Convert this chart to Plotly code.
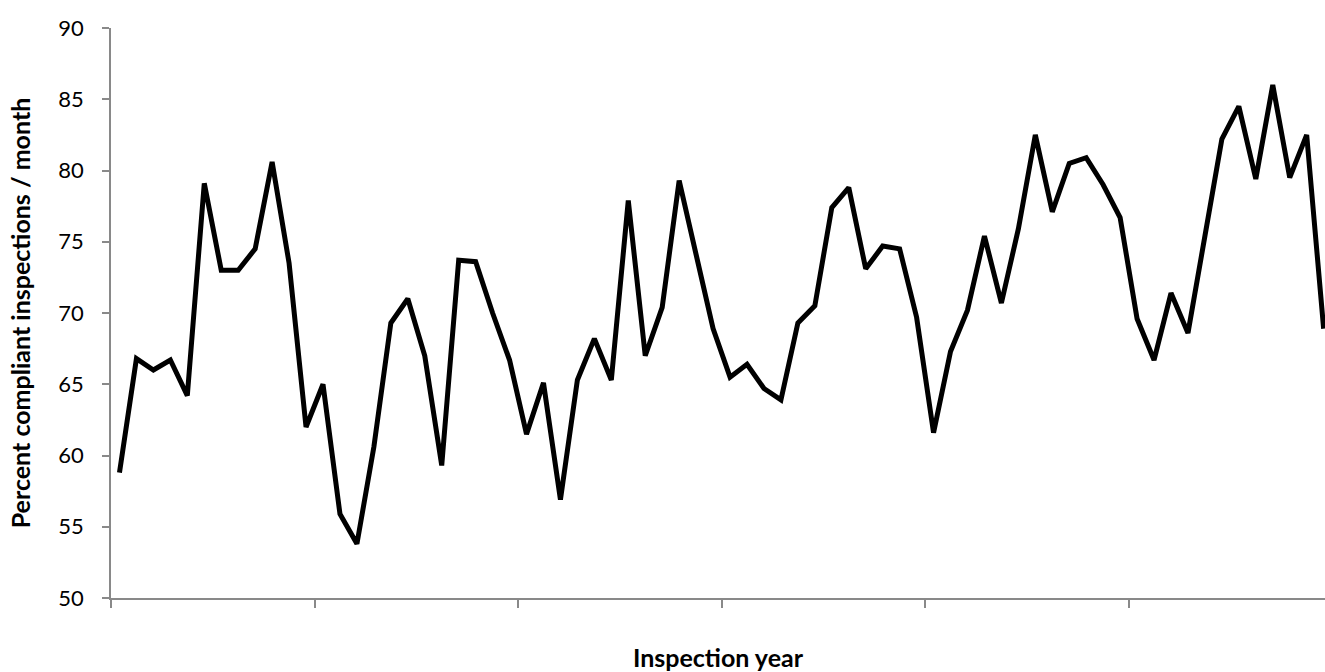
import plotly.graph_objects as go

# Monthly percent compliant inspections (72 months = 6 inspection years)
months = list(range(72))
values = [
    58.8, 66.8, 66.0, 66.7, 64.2, 79.1, 73.0, 73.0, 74.5, 80.6, 73.5, 62.0,
    65.0, 55.9, 53.8, 60.6, 69.3, 71.0, 67.0, 59.3, 73.7, 73.6, 70.0, 66.7,
    61.5, 65.1, 56.9, 65.3, 68.2, 65.3, 77.9, 67.0, 70.4, 79.3, 74.1, 68.9,
    65.5, 66.4, 64.7, 63.9, 69.3, 70.5, 77.4, 78.8, 73.1, 74.7, 74.5, 69.7,
    61.6, 67.3, 70.2, 75.4, 70.7, 75.9, 82.5, 77.1, 80.5, 80.9, 79.0, 76.7,
    69.6, 66.7, 71.4, 68.6, 75.4, 82.2, 84.5, 79.4, 86.0, 79.5, 82.5, 68.9,
]
year_boundaries = [-0.5, 11.5, 23.5, 35.5, 47.5, 59.5, 71.5]
y_ticks = [50, 55, 60, 65, 70, 75, 80, 85, 90]

FONT = "Lato, 'Open Sans', sans-serif"
AXIS_GRAY = "#898989"

fig = go.Figure(
    go.Scatter(
        x=months,
        y=values,
        mode="lines",
        line=dict(color="black", width=5),
        showlegend=False,
    )
)

fig.update_layout(
    width=1325,
    height=672,
    margin=dict(l=111, r=0, t=28, b=74),
    paper_bgcolor="white",
    plot_bgcolor="white",
    font=dict(family=FONT, color="black"),
)

fig.update_xaxes(
    range=[-0.5, 71.08],
    tickmode="array",
    tickvals=year_boundaries,
    showticklabels=False,
    ticks="outside",
    ticklen=8,
    tickcolor=AXIS_GRAY,
    tickwidth=1.5,
    showline=True,
    linecolor=AXIS_GRAY,
    linewidth=1.5,
    showgrid=False,
    zeroline=False,
    title=dict(text="<b>Inspection year</b>", font=dict(size=25, family=FONT), standoff=45),
)

fig.update_yaxes(
    range=[50, 90],
    tickmode="array",
    tickvals=y_ticks,
    ticks="outside",
    ticklen=7,
    tickcolor=AXIS_GRAY,
    tickwidth=1.5,
    showline=True,
    linecolor=AXIS_GRAY,
    linewidth=1.5,
    showgrid=False,
    zeroline=False,
    tickfont=dict(size=22, family=FONT),
    ticklabelstandoff=14,
    title=dict(text="<b>Percent compliant inspections / month</b>", font=dict(size=25, family=FONT), standoff=21),
)

fig.write_html(
    "out.html",
    config={"displayModeBar": False},
    post_script="document.body.style.margin='0';document.documentElement.style.overflow='hidden';",
)
